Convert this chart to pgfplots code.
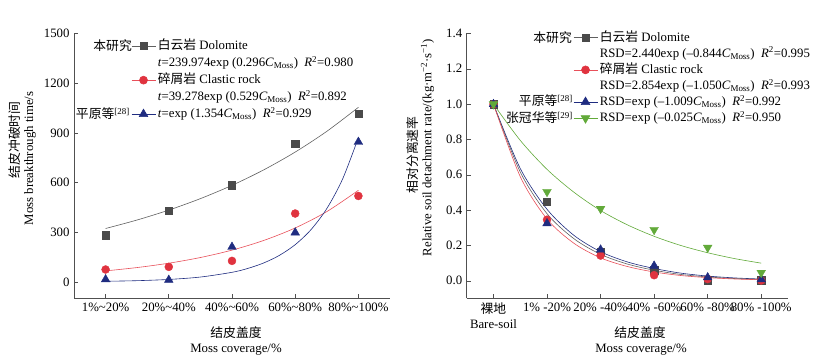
\documentclass[border=0pt]{standalone}
\usepackage{fontspec}
\setmainfont{Liberation Serif}
\newfontfamily\cjk{Noto Sans CJK SC}
\usepackage{pgfplots}
\pgfplotsset{compat=1.18}

\definecolor{cgray}{HTML}{4A4A4A}
\definecolor{clgray}{HTML}{606060}
\definecolor{cred}{HTML}{E0333F}
\definecolor{clred}{HTML}{E8505A}
\definecolor{cblue}{HTML}{1F2C80}
\definecolor{cgreen}{HTML}{62AA3A}
\definecolor{caxis}{HTML}{505050}

\newcommand{\Cm}{\textit{C}\textsubscript{Moss}}
\newcommand{\Rsq}{\textit{R}\textsuperscript{2}}

\pgfplotsset{
  common/.style={
    scale only axis, height=265pt,
    axis lines*=left, tick align=inside, major tick length=4pt,
    axis line style={caxis, line width=0.6pt},
    every tick/.style={caxis, line width=0.6pt},
    /pgf/number format/assume math mode=true,
    /pgf/number format/1000 sep={},
    scaled y ticks=false,
    legend cell align=left,
    legend image code/.code={\draw[mark repeat=2,mark phase=2,##1] plot coordinates {(0pt,0pt) (12pt,0pt) (24pt,0pt)};},
  },
  mgray/.style={mark=square*, mark size=3.6pt, mark options={solid, fill=cgray, draw=cgray}},
  mred/.style={mark=*, mark size=4pt, mark options={solid, fill=cred, draw=cred}},
  mblue/.style={mark=triangle*, mark size=5pt, mark options={solid, fill=cblue, draw=cblue}},
  mgreen/.style={mark=triangle*, mark size=5pt, mark options={solid, rotate=180, fill=cgreen, draw=cgreen}},
}

\begin{document}
\fontsize{12.8}{15}\selectfont
\begin{tikzpicture}

% ---------------- left panel ----------------
\begin{axis}[common,
  at={(74pt,64.5pt)}, anchor=south west, width=316pt,
  xmin=0.5, xmax=5.5, ymin=-100, ymax=1500,
  ytick={0,300,600,900,1200,1500},
  xtick={1,2,3,4,5},
  xticklabels={1\%\textasciitilde20\%,20\%\textasciitilde40\%,40\%\textasciitilde60\%,60\%\textasciitilde80\%,80\%\textasciitilde100\%},
  legend style={at={(0.1804,0.985)}, anchor=north west, draw=none, fill=none,
    inner sep=0pt, row sep=0pt,
    nodes={inner sep=2pt, text height=10pt, text depth=3pt}},
]
% fitted curves
\addplot[clgray, line width=0.6pt, smooth, forget plot] coordinates {
 (1,322.6)(1.5,374.1)(2,433.8)(2.5,503.0)(3,583.2)(3.5,676.2)(4,784.1)(4.5,909.2)(5,1054.2)};
\addplot[clred, line width=0.6pt, smooth, forget plot] coordinates {
 (1,66.7)(1.5,86.9)(2,113.1)(2.5,147.4)(3,192.0)(3.5,250.2)(4,325.9)(4.5,424.6)(5,553.2)};
\addplot[cblue, line width=0.6pt, smooth, forget plot] coordinates {
 (1,3.9)(1.5,7.6)(2,15.0)(2.5,29.5)(3,58.1)(3.25,81.5)(3.5,114.3)(3.75,160.4)(4,225.0)(4.25,315.7)(4.5,442.9)(4.75,621.4)(5,871.3)};
% observations
\addplot[only marks, mgray, forget plot] coordinates {(1,282)(2,429)(3,584)(4,836)(5,1017)};
\addplot[only marks, mred, forget plot] coordinates {(1,75)(2,91)(3,127)(4,413)(5,519)};
\addplot[only marks, mblue, forget plot] coordinates {(1,15)(2,12)(3,211)(4,298)(5,845)};
% legend
\addlegendimage{clgray, line width=0.6pt, mgray}
\addlegendentry{{\cjk 白云岩} Dolomite}
\addlegendimage{empty legend}
\addlegendentry{\textit{t}=239.974exp (0.296\Cm)\ \ \Rsq=0.980}
\addlegendimage{clred, line width=0.6pt, mred}
\addlegendentry{{\cjk 碎屑岩} Clastic rock}
\addlegendimage{empty legend}
\addlegendentry{\textit{t}=39.278exp (0.529\Cm)\ \ \Rsq=0.892}
\addlegendimage{cblue, line width=0.6pt, mblue}
\addlegendentry{\textit{t}=exp (1.354\Cm)\ \ \Rsq=0.929}
\end{axis}

% ---------------- right panel ----------------
\begin{axis}[common,
  at={(466.7pt,64.5pt)}, anchor=south west, width=321.3pt,
  xmin=-0.5, xmax=5.5, ymin=-0.1, ymax=1.4,
  ytick={0,0.2,0.4,0.6,0.8,1.0,1.2,1.4},
  yticklabel style={/pgf/number format/.cd, fixed, fixed zerofill, precision=1},
  xtick={0,1,2,3,4,5},
  xticklabels={{{\cjk 裸地}\\Bare-soil},1\% -20\%,20\% -40\%,40\% -60\%,60\% -80\%,80\% -100\%},
  xticklabel style={align=center},
  legend style={at={(0.3309,1.0153)}, anchor=north west, draw=none, fill=none,
    inner sep=0pt, row sep=0pt,
    nodes={inner sep=2pt, text height=9.6pt, text depth=2.5pt}},
]
% fitted curves
\addplot[cgreen, line width=0.6pt, smooth, forget plot] coordinates {
 (0,1)(0.5,0.795)(1,0.631)(1.5,0.502)(2,0.398)(2.5,0.317)(3,0.252)(3.5,0.200)(4,0.159)(4.5,0.126)(5,0.100)};
\addplot[cblue, line width=0.6pt, smooth, forget plot] coordinates {
 (0,1)(0.5,0.636)(1,0.405)(1.5,0.258)(2,0.165)(2.5,0.107)(3,0.070)(3.5,0.0435)(4,0.027)(4.5,0.0165)(5,0.010)};
\addplot[clgray, line width=0.6pt, smooth, forget plot] coordinates {
 (0,1)(0.5,0.616)(1,0.380)(1.5,0.239)(2,0.150)(2.5,0.095)(3,0.060)(3.5,0.036)(4,0.022)(4.5,0.013)(5,0.008)};
\addplot[clred, line width=0.6pt, smooth, forget plot] coordinates {
 (0,1)(0.5,0.590)(1,0.350)(1.5,0.213)(2,0.130)(2.5,0.081)(3,0.050)(3.5,0.030)(4,0.018)(4.5,0.0105)(5,0.006)};
% observations
\addplot[only marks, mgray, forget plot] coordinates {(0,1.0)(1,0.447)(2,0.165)(3,0.060)(4,0.003)(5,0.004)};
\addplot[only marks, mred, forget plot] coordinates {(0,1.0)(1,0.346)(2,0.143)(3,0.032)(4,0.010)(5,0.002)};
\addplot[only marks, mblue, forget plot] coordinates {(0,1.0)(1,0.325)(2,0.176)(3,0.085)(4,0.019)(5,0.008)};
\addplot[only marks, mgreen, forget plot] coordinates {(0,1.0)(1,0.504)(2,0.408)(3,0.289)(4,0.188)(5,0.046)};
% legend
\addlegendimage{clgray, line width=0.6pt, mgray}
\addlegendentry{{\cjk 白云岩} Dolomite}
\addlegendimage{empty legend}
\addlegendentry{RSD=2.440exp (–0.844\Cm)\ \ \Rsq=0.995}
\addlegendimage{clred, line width=0.6pt, mred}
\addlegendentry{{\cjk 碎屑岩} Clastic rock}
\addlegendimage{empty legend}
\addlegendentry{RSD=2.854exp (–1.050\Cm)\ \ \Rsq=0.993}
\addlegendimage{cblue, line width=0.6pt, mblue}
\addlegendentry{RSD=exp (–1.009\Cm)\ \ \Rsq=0.992}
\addlegendimage{cgreen, line width=0.6pt, mgreen}
\addlegendentry{RSD=exp (–0.025\Cm)\ \ \Rsq=0.950}
\end{axis}

% ---------------- text labels ----------------
\node[anchor=east, inner sep=0pt] at (132pt,317pt) {\cjk 本研究};
\node[anchor=east, inner sep=0pt] at (130pt,249pt) {{\cjk 平原等}\textsuperscript{[28]}};
\node[anchor=east, inner sep=0pt] at (572pt,325.5pt) {\cjk 本研究};
\node[anchor=east, inner sep=0pt] at (573pt,262pt) {{\cjk 平原等}\textsuperscript{[28]}};
\node[anchor=east, inner sep=0pt] at (573pt,245pt) {{\cjk 张冠华等}\textsuperscript{[29]}};

\node[rotate=90, inner sep=0pt] at (15pt,223pt) {\cjk 结皮冲破时间};
\node[rotate=90, inner sep=0pt] at (30pt,204.5pt) {Moss breakthrough time/s};
\node[rotate=90, inner sep=0pt] at (413pt,208pt) {\cjk 相对分离速率};
\node[rotate=90, inner sep=0pt] at (427.5pt,215.5pt) {Relative soil detachment rate/(kg·m\textsuperscript{−2}·s\textsuperscript{−1})};

\node[inner sep=0pt] at (236pt,30pt) {\cjk 结皮盖度};
\node[inner sep=0pt] at (236pt,13pt) {Moss coverage/\%};
\node[inner sep=0pt] at (640pt,30pt) {\cjk 结皮盖度};
\node[inner sep=0pt] at (641pt,13pt) {Moss coverage/\%};

\pgfresetboundingbox
\useasboundingbox (0pt,0pt) rectangle (836pt,363pt);
\end{tikzpicture}
\end{document}
